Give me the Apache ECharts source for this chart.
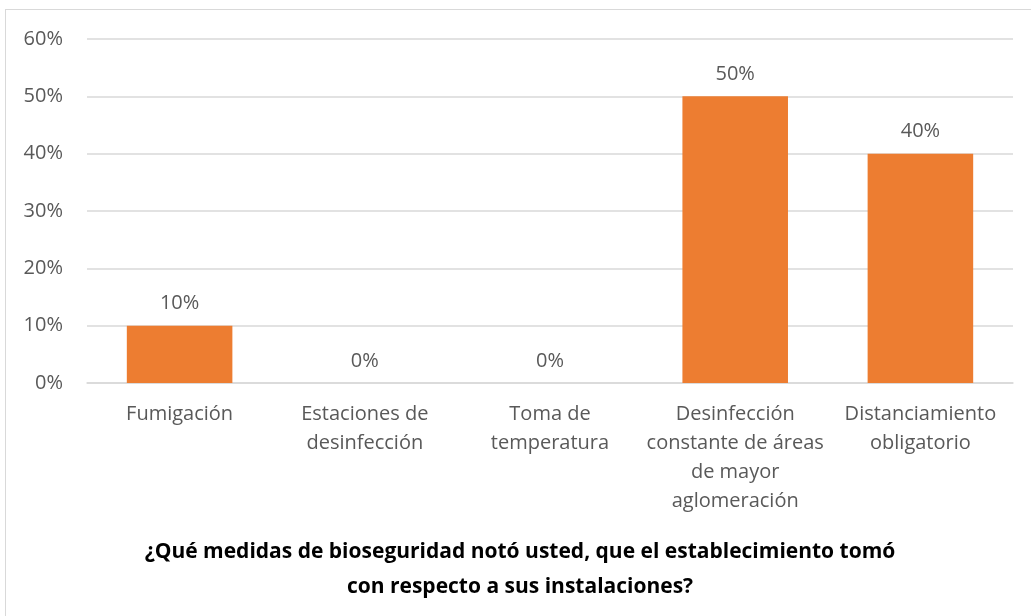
<!DOCTYPE html>
<html>
<head>
<meta charset="utf-8">
<script src="https://cdn.jsdelivr.net/npm/echarts@6/dist/echarts.min.js"></script>
<style>
  html, body { margin: 0; padding: 0; background: #fff; }
  #frame {
    position: absolute; left: 5px; top: 9px; width: 1040px; height: 640px;
    border: 1px solid #d9d9d9; box-sizing: border-box;
  }
  #main { position: absolute; left: 0; top: 0; width: 1031px; height: 616px; }
</style>
</head>
<body>
<div id="frame"></div>
<div id="main"></div>
<script>
// categorías y valores (%)
const categories = [
  "Fumigación",
  "Estaciones de\ndesinfección",
  "Toma de\ntemperatura",
  "Desinfección\nconstante de áreas\nde mayor\naglomeración",
  "Distanciamiento\nobligatorio"
];
const values = [10, 0, 0, 50, 40];
const yTicks = [0, 10, 20, 30, 40, 50, 60];

const txt = "#595959";
const font = "'Open Sans', 'Liberation Sans', sans-serif";

let myChart = echarts.init(document.getElementById("main"));
let option = {
  animation: false,
  title: {
    text: "¿Qué medidas de bioseguridad notó usted, que el establecimiento tomó\ncon respecto a sus instalaciones?",
    left: 515,
    textAlign: "center",
    top: 530,
    textStyle: { fontFamily: font, fontSize: 21, fontWeight: "bold", color: "#000", lineHeight: 35 }
  },
  grid: { left: 87, right: 18, top: 39, bottom: 233 },
  xAxis: {
    type: "category",
    data: categories,
    axisLine: { lineStyle: { color: "#d9d9d9", width: 1.5 } },
    axisTick: { show: false },
    axisLabel: { color: txt, fontFamily: font, fontSize: 20, lineHeight: 29, margin: 17, interval: 0 }
  },
  yAxis: {
    type: "value",
    min: yTicks[0],
    max: yTicks[yTicks.length - 1],
    interval: 10,
    axisLabel: { formatter: "{value}%", color: txt, fontFamily: font, fontSize: 20, margin: 24 },
    splitLine: { lineStyle: { color: "#d9d9d9", width: 1.5 } },
    axisLine: { show: false },
    axisTick: { show: false }
  },
  series: [
    {
      type: "bar",
      data: values,
      barWidth: "57%",
      itemStyle: { color: "#ED7D31" },
      label: {
        show: true,
        position: "top",
        formatter: "{c}%",
        color: txt,
        fontFamily: font,
        fontSize: 20,
        distance: 12
      }
    }
  ]
};
myChart.setOption(option);
</script>
</body>
</html>
